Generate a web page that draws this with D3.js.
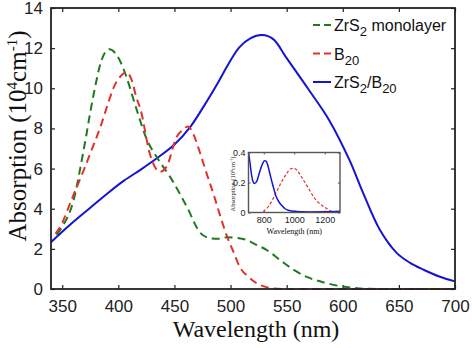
<!DOCTYPE html>
<html lang="en">
<head>
<meta charset="utf-8">
<title>Absorption spectra</title>
<script src="https://cdnjs.cloudflare.com/ajax/libs/d3/7.8.5/d3.min.js"></script>
<style>
  body { margin: 0; background: #fff; }
  .tick text { font-family: "Liberation Sans", Arial, sans-serif; }
  .lbl { font-family: "Liberation Serif", "Times New Roman", serif; fill: #111; }
</style>
</head>
<body>
<script>
// main panel data (nm, 10^4 cm^-1)
const monoX = [345, 350, 360, 369, 378, 385, 392, 398, 404, 407, 416, 425, 435, 446, 461, 473, 482, 490, 497, 505, 514, 523, 532, 544, 555, 568, 585, 600, 615, 630, 700];
const monoY = [2.7, 3.1, 4.4, 6.9, 9.7, 11.4, 11.95, 11.7, 11.05, 10.6, 9.0, 7.5, 6.5, 5.6, 4.1, 2.8, 2.53, 2.5, 2.58, 2.55, 2.45, 2.2, 1.95, 1.45, 1.0, 0.6, 0.3, 0.12, 0.03, 0, 0];

const b20X = [344, 350, 357, 369, 376, 384, 390, 396, 402, 407, 412, 416, 420, 428, 437, 443, 452, 458, 462, 467, 473, 479, 485, 491, 497, 503, 508, 516, 523, 535, 545, 700];
const b20Y = [2.75, 3.3, 4.27, 5.9, 6.9, 8.07, 9.1, 10.06, 10.6, 10.8, 10.4, 9.56, 8.9, 6.75, 5.84, 6.1, 7.58, 7.95, 8.1, 7.7, 6.75, 5.7, 4.7, 3.6, 2.6, 1.8, 1.12, 0.6, 0.3, 0.05, 0, 0];

const hetX = [340, 350, 360, 375, 390, 405, 420, 434, 450, 464, 475, 488, 498, 508, 518, 528, 538, 550, 570, 588, 606, 618, 633, 648, 660, 672, 686, 700];
const hetY = [2.33, 2.85, 3.35, 4.05, 4.75, 5.4, 5.95, 6.5, 7.2, 8.07, 9.0, 10.2, 11.2, 12.05, 12.5, 12.65, 12.45, 11.5, 9.9, 8.4, 6.42, 4.8, 2.95, 1.8, 1.3, 0.96, 0.62, 0.38];

// inset data
const inHetX = [700, 710, 720, 730, 740, 755, 770, 790, 805, 815, 825, 840, 860, 880, 900, 920, 940, 960, 1000, 1050, 1100, 1200, 1300];
const inHetY = [0.40, 0.33, 0.25, 0.205, 0.193, 0.21, 0.26, 0.32, 0.345, 0.342, 0.32, 0.26, 0.18, 0.11, 0.07, 0.045, 0.025, 0.015, 0.008, 0.005, 0.004, 0.005, 0.008];
const inB20X = [700, 780, 800, 830, 860, 890, 920, 950, 975, 995, 1015, 1040, 1070, 1100, 1130, 1160, 1200, 1240, 1300];
const inB20Y = [0, 0, 0.01, 0.04, 0.09, 0.15, 0.21, 0.26, 0.29, 0.295, 0.285, 0.25, 0.2, 0.15, 0.1, 0.065, 0.035, 0.01, 0];

const xTicks = [350, 400, 450, 500, 550, 600, 650, 700];
const yTicks = [0, 2, 4, 6, 8, 10, 12, 14];
const inXTicks = [800, 1000, 1200];
const inYTicks = [0, 0.2, 0.4];

const green = "#1f7a1f", red = "#e3302b", blue = "#1414d2";

const w = 472, h = 348;
const svg = d3.select("body").append("svg").attr("width", w).attr("height", h);

const L = 51, R = 455, T = 8, B = 289;
const x = d3.scaleLinear().domain([340, 700]).range([L, R]);
const y = d3.scaleLinear().domain([0, 14]).range([B, T]);

const zip = (xs, ys) => xs.map((v, i) => [v, ys[i]]);

// axes (inward ticks, box)
function styleAxis(g, size) {
  g.select(".domain").remove();
  g.selectAll(".tick line").attr("stroke", "#222").attr("stroke-width", 1.2);
  g.selectAll(".tick text").attr("font-size", size).attr("fill", "#222");
}
svg.append("g").attr("transform", `translate(0,${B})`)
  .call(d3.axisBottom(x).tickValues(xTicks).tickSizeInner(-4).tickPadding(11))
  .call(g => styleAxis(g, 17));
svg.append("g").attr("transform", `translate(0,${T})`)
  .call(d3.axisTop(x).tickValues(xTicks).tickSizeInner(-4).tickFormat(""))
  .call(g => styleAxis(g, 17));
svg.append("g").attr("transform", `translate(${L},0)`)
  .call(d3.axisLeft(y).tickValues(yTicks).tickSizeInner(-4).tickPadding(8))
  .call(g => styleAxis(g, 17));
svg.append("g").attr("transform", `translate(${R},0)`)
  .call(d3.axisRight(y).tickValues(yTicks).tickSizeInner(-4).tickFormat(""))
  .call(g => styleAxis(g, 17));

const line = d3.line().x(d => x(d[0])).y(d => y(d[1])).curve(d3.curveMonotoneX);
const smooth = d3.line().x(d => x(d[0])).y(d => y(d[1])).curve(d3.curveCatmullRom.alpha(0.5));

svg.append("path").datum(zip(hetX, hetY)).attr("d", smooth)
  .attr("fill", "none").attr("stroke", blue).attr("stroke-width", 2);
svg.append("path").datum(zip(monoX, monoY)).attr("d", line)
  .attr("fill", "none").attr("stroke", green).attr("stroke-width", 2).attr("stroke-dasharray", "8,5");
svg.append("path").datum(zip(b20X, b20Y)).attr("d", line)
  .attr("fill", "none").attr("stroke", red).attr("stroke-width", 2).attr("stroke-dasharray", "8,5");

svg.append("rect").attr("x", L).attr("y", T).attr("width", R - L).attr("height", B - T)
  .attr("fill", "none").attr("stroke", "#222").attr("stroke-width", 1.8);

// axis labels
svg.append("text").attr("class", "lbl").attr("x", (L + R) / 2 + 3).attr("y", 337)
  .attr("text-anchor", "middle").attr("font-size", 24).text("Wavelength (nm)");
const yl = svg.append("text").attr("class", "lbl").attr("text-anchor", "middle")
  .attr("transform", "translate(26,136) rotate(-90)").attr("font-size", 25);
yl.append("tspan").text("Absorption (10");
yl.append("tspan").attr("font-size", 15).attr("dy", -9).text("4");
yl.append("tspan").attr("dy", 9).text("cm");
yl.append("tspan").attr("font-size", 15).attr("dy", -9).text("-1");
yl.append("tspan").attr("dy", 9).text(")");

// legend
const legend = [
  { color: green, dash: "7,4", parts: [["ZrS", 0], ["2", 1], [" monolayer", 0]] },
  { color: red, dash: "7,4", parts: [["B", 0], ["20", 1]] },
  { color: blue, dash: null, parts: [["ZrS", 0], ["2", 1], ["/B", 0], ["20", 1]] }
];
legend.forEach((d, i) => {
  const ly = 25 + i * 28.5;
  svg.append("line").attr("x1", 313).attr("x2", 331).attr("y1", ly).attr("y2", ly)
    .attr("stroke", d.color).attr("stroke-width", 2).attr("stroke-dasharray", d.dash);
  const t = svg.append("text").attr("x", 334).attr("y", ly + 6)
    .attr("font-family", "Liberation Sans, Arial, sans-serif").attr("font-size", 16).attr("fill", "#111");
  let prev = 0;
  d.parts.forEach(p => {
    const shift = p[1] ? 5 : 0;
    t.append("tspan").attr("dy", shift - prev).attr("font-size", p[1] ? 13 : 16).text(p[0]);
    prev = shift;
  });
});

// inset
const iL = 248.5, iR = 340, iT = 152.5, iB = 212.5;
const ix = d3.scaleLinear().domain([700, 1300]).range([iL, iR]);
const iy = d3.scaleLinear().domain([0, 0.4]).range([iB, iT]);
const ig = svg.append("g");
ig.append("rect").attr("x", iL).attr("y", iT).attr("width", iR - iL).attr("height", iB - iT)
  .attr("fill", "#fff");
ig.append("g").attr("transform", `translate(0,${iB})`)
  .call(d3.axisBottom(ix).tickValues(inXTicks).tickSizeInner(-2).tickPadding(4).tickFormat(d3.format("d")))
  .call(g => styleAxis(g, 9));
ig.append("g").attr("transform", `translate(0,${iT})`)
  .call(d3.axisTop(ix).tickValues(inXTicks).tickSizeInner(-2).tickFormat(""))
  .call(g => styleAxis(g, 9));
ig.append("g").attr("transform", `translate(${iL},0)`)
  .call(d3.axisLeft(iy).tickValues(inYTicks).tickSizeInner(-2).tickPadding(3).tickFormat(d => d === 0 ? "0" : d3.format(".1f")(d)))
  .call(g => styleAxis(g, 9));
ig.append("g").attr("transform", `translate(${iR},0)`)
  .call(d3.axisRight(iy).tickValues(inYTicks).tickSizeInner(-2).tickFormat(""))
  .call(g => styleAxis(g, 9));
ig.selectAll(".tick line").attr("stroke-width", 0.8);

const iline = d3.line().x(d => ix(d[0])).y(d => iy(d[1])).curve(d3.curveMonotoneX);
ig.append("path").datum(zip(inB20X, inB20Y)).attr("d", iline)
  .attr("fill", "none").attr("stroke", red).attr("stroke-width", 1.2).attr("stroke-dasharray", "3,2");
ig.append("path").datum(zip(inHetX, inHetY)).attr("d", iline)
  .attr("fill", "none").attr("stroke", blue).attr("stroke-width", 1.5);
ig.append("rect").attr("x", iL).attr("y", iT).attr("width", iR - iL).attr("height", iB - iT)
  .attr("fill", "none").attr("stroke", "#555").attr("stroke-width", 1.4);

ig.append("text").attr("class", "lbl").attr("x", (iL + iR) / 2).attr("y", 234)
  .attr("text-anchor", "middle").attr("font-size", 8).text("Wavelength (nm)");
const iyl = ig.append("text").attr("class", "lbl").attr("text-anchor", "middle")
  .attr("transform", "translate(235,184) rotate(-90)").attr("font-size", 6.5);
iyl.append("tspan").text("Absorption (10");
iyl.append("tspan").attr("font-size", 4).attr("dy", -2.5).text("4");
iyl.append("tspan").attr("dy", 2.5).text("cm");
iyl.append("tspan").attr("font-size", 4).attr("dy", -2.5).text("-1");
iyl.append("tspan").attr("dy", 2.5).text(")");
</script>
</body>
</html>
